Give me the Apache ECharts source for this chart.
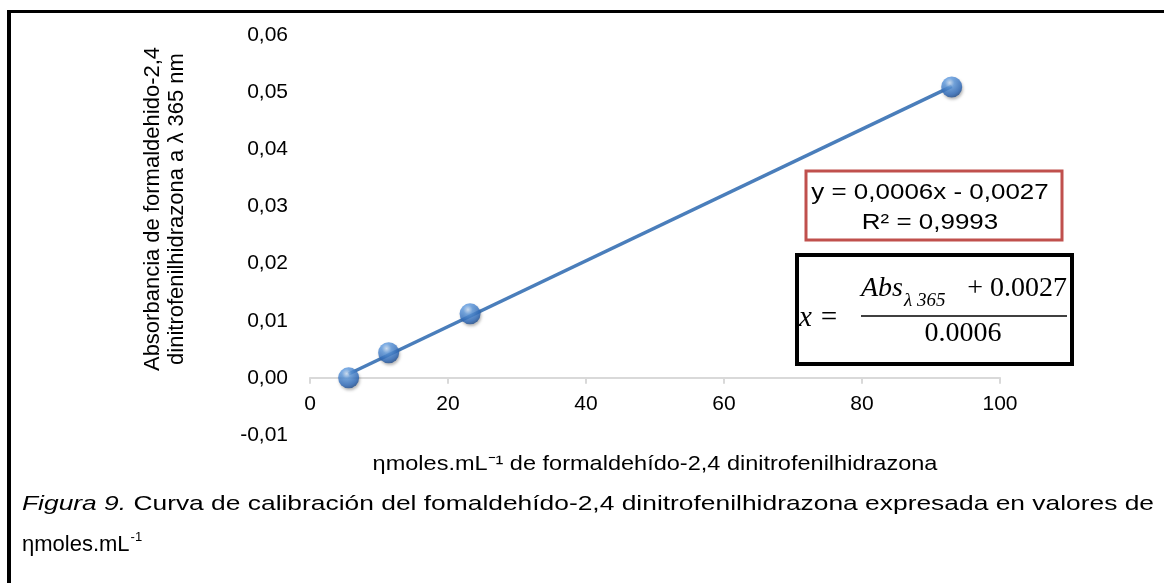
<!DOCTYPE html>
<html>
<head>
<meta charset="utf-8">
<script src="https://cdn.jsdelivr.net/npm/echarts@6/dist/echarts.min.js"></script>
<style>
  html, body { margin: 0; padding: 0; background: #fff; }
  #chart { width: 1164px; height: 583px; }
</style>
</head>
<body>
<div id="chart"></div>
<script>
  // concentracion (nmol/mL) y absorbancia a 365 nm
  const concentracion = [5.6, 11.4, 23.2, 93.0];
  const absorbancia = [0.0, 0.0044, 0.0112, 0.0509];
  const xTicks = [0, 20, 40, 60, 80, 100];
  const yTicks = [-0.01, 0, 0.01, 0.02, 0.03, 0.04, 0.05, 0.06];
  const pieCursiva = 'Figura 9.';
  const pieTexto = ' Curva de calibración del fomaldehído-2,4 dinitrofenilhidrazona expresada en valores de';

  // recta de ajuste (minimos cuadrados) entre el primer y ultimo punto
  const n = concentracion.length;
  const mx = concentracion.reduce((a, b) => a + b, 0) / n;
  const my = absorbancia.reduce((a, b) => a + b, 0) / n;
  let sxy = 0, sxx = 0;
  for (let i = 0; i < n; i++) {
    sxy += (concentracion[i] - mx) * (absorbancia[i] - my);
    sxx += (concentracion[i] - mx) * (concentracion[i] - mx);
  }
  const pendiente = sxy / sxx;
  const corte = my - pendiente * mx;
  const xMin = Math.min(...concentracion), xMax = Math.max(...concentracion);
  const tendencia = [[xMin, corte + pendiente * xMin], [xMax, corte + pendiente * xMax]];

  const font = '"Liberation Sans", Arial, sans-serif';
  const serif = '"Liberation Serif", "Times New Roman", serif';

  // el pie ocupa todo el ancho de la pagina
  const ctx = document.createElement('canvas').getContext('2d');
  ctx.font = 'italic 21px ' + font;
  const w1 = ctx.measureText(pieCursiva).width;
  ctx.font = '21px ' + font;
  const w2 = ctx.measureText(pieTexto).width;
  const pieEscala = (1154 - 22) / (w1 + w2);
  ctx.font = '22px ' + font;
  const wUnidad = ctx.measureText('ηmoles.mL').width;

  const chart = echarts.init(document.getElementById('chart'));
  chart.setOption({
    animation: false,
    grid: { left: 310, right: 164, top: 35, bottom: 148 },
    xAxis: {
      type: 'value',
      min: xTicks[0],
      max: xTicks[xTicks.length - 1],
      interval: 20,
      offset: -400 / 7,
      axisLine: { onZero: false, lineStyle: { color: '#d9d9d9', width: 2 } },
      axisTick: { show: true, length: 6, lineStyle: { color: '#d9d9d9', width: 2 } },
      axisLabel: { color: '#000', fontSize: 21, fontFamily: font, margin: 16 },
      splitLine: { show: false }
    },
    yAxis: {
      type: 'value',
      min: yTicks[0],
      max: yTicks[yTicks.length - 1],
      interval: 0.01,
      axisLine: { show: false },
      axisTick: { show: false },
      splitLine: { show: false },
      axisLabel: {
        color: '#000', fontSize: 21, fontFamily: font, margin: 22,
        formatter: v => v.toFixed(2).replace('.', ',')
      }
    },
    series: [
      {
        type: 'line',
        data: tendencia,
        symbol: 'none',
        lineStyle: { color: '#4a7ebb', width: 3.5 },
        z: 2
      },
      {
        type: 'scatter',
        data: concentracion.map((x, i) => [x, absorbancia[i]]),
        symbolSize: 21,
        itemStyle: {
          color: {
            type: 'radial', x: 0.4, y: 0.3, r: 0.75,
            colorStops: [
              { offset: 0, color: '#cfe3fb' },
              { offset: 0.3, color: '#5f9be0' },
              { offset: 0.75, color: '#2f6cbd' },
              { offset: 1, color: '#1c4683' }
            ]
          },
          shadowColor: 'rgba(0,0,0,0.35)',
          shadowBlur: 3,
          shadowOffsetX: 1,
          shadowOffsetY: 2
        },
        z: 3
      }
    ],
    graphic: [
      // marco de la figura
      { type: 'rect', shape: { x: 7, y: 10, width: 1160, height: 3 }, style: { fill: '#000' } },
      { type: 'rect', shape: { x: 7, y: 10, width: 4, height: 580 }, style: { fill: '#000' } },
      // titulo eje y
      {
        type: 'text', x: 165, y: 209, rotation: Math.PI / 2,
        style: {
          text: 'Absorbancia de formaldehido-2,4\ndinitrofenilhidrazona a λ 365 nm',
          fontSize: 22, fontFamily: font, fill: '#000', lineHeight: 24,
          align: 'center', verticalAlign: 'middle'
        }
      },
      // titulo eje x
      {
        type: 'text', x: 655, y: 464, scaleX: 1.12,
        style: {
          text: 'ηmoles.mL⁻¹ de formaldehído-2,4 dinitrofenilhidrazona',
          fontSize: 21, fontFamily: font, fill: '#000',
          align: 'center', verticalAlign: 'middle'
        }
      },
      // ecuacion de la recta
      {
        type: 'rect', shape: { x: 806, y: 171, width: 256, height: 69 },
        style: { fill: '#fff', stroke: '#c0504d', lineWidth: 3 }
      },
      {
        type: 'text', x: 930, y: 208, scaleX: 1.18,
        style: {
          text: 'y = 0,0006x - 0,0027\nR² = 0,9993',
          fontSize: 22, fontFamily: font, fill: '#000', lineHeight: 30,
          align: 'center', verticalAlign: 'middle'
        }
      },
      // despeje de x
      {
        type: 'rect', shape: { x: 797, y: 255, width: 275, height: 109 },
        style: { fill: '#fff', stroke: '#000', lineWidth: 4 }
      },
      {
        type: 'text', x: 799, y: 318,
        style: { text: 'x =', fontSize: 29, fontFamily: serif, fontStyle: 'italic', fill: '#000', align: 'left', verticalAlign: 'middle' }
      },
      {
        type: 'text', x: 861, y: 289,
        style: { text: 'Abs', fontSize: 28, fontFamily: serif, fontStyle: 'italic', fill: '#000', align: 'left', verticalAlign: 'middle' }
      },
      {
        type: 'text', x: 904, y: 301,
        style: { text: 'λ 365', fontSize: 19, fontFamily: serif, fontStyle: 'italic', fill: '#000', align: 'left', verticalAlign: 'middle' }
      },
      {
        type: 'text', x: 1067, y: 289,
        style: { text: '+ 0.0027', fontSize: 28, fontFamily: serif, fill: '#000', align: 'right', verticalAlign: 'middle' }
      },
      { type: 'line', shape: { x1: 861, y1: 316, x2: 1067, y2: 316 }, style: { stroke: '#000', lineWidth: 1.5 } },
      {
        type: 'text', x: 963, y: 334,
        style: { text: '0.0006', fontSize: 28, fontFamily: serif, fill: '#000', align: 'center', verticalAlign: 'middle' }
      },
      // pie de figura
      {
        type: 'text', x: 22, y: 504, scaleX: pieEscala,
        style: {
          text: '{i|' + pieCursiva + '}' + pieTexto,
          fontSize: 21, fontFamily: font, fill: '#000', verticalAlign: 'middle',
          rich: { i: { fontStyle: 'italic', fontSize: 21, fontFamily: font } }
        }
      },
      {
        type: 'text', x: 22, y: 545,
        style: { text: 'ηmoles.mL', fontSize: 22, fontFamily: font, fill: '#000', verticalAlign: 'middle' }
      },
      {
        type: 'text', x: 22 + wUnidad + 1, y: 537,
        style: { text: '-1', fontSize: 13, fontFamily: font, fill: '#000', verticalAlign: 'middle' }
      }
    ]
  });
</script>
</body>
</html>
